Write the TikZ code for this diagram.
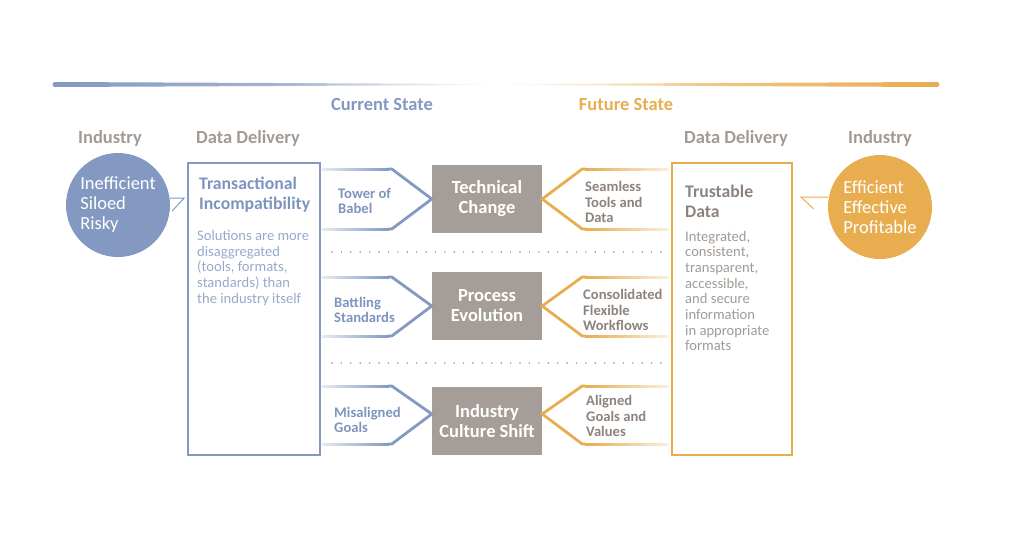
\documentclass[tikz,border=0pt]{standalone}
\usepackage{fontspec}
\setmainfont{Carlito}
\definecolor{stateblue}{HTML}{8399C1}
\definecolor{titleblue}{HTML}{7D94BF}
\definecolor{descblue}{HTML}{97A9CB}
\definecolor{futorange}{HTML}{E8AD4F}
\definecolor{boxgrey}{HTML}{A59E98}
\definecolor{labelgrey}{HTML}{A29A94}
\definecolor{darkgrey}{HTML}{8C837D}
\definecolor{dotgrey}{HTML}{8E8782}
\begin{document}
\begin{tikzpicture}[x=1pt, y=-1pt,
  hdr/.style={inner sep=0pt, text=labelgrey, font=\bfseries\fontsize{18.5}{21}\selectfont},
  ind/.style={circle, minimum size=104pt, inner sep=0pt, text=white, align=left, font=\fontsize{18.5}{20}\selectfont},
  ddbox/.style={line width=1.2pt, minimum height=292pt, inner sep=0pt},
  chg/.style={fill=boxgrey, minimum width=110pt, minimum height=68pt, inner sep=0pt, text=white, align=center, font=\bfseries\fontsize{18.5}{20}\selectfont},
  chev/.style={line width=2.8pt, line join=miter},
  ttl/.style={anchor=west, align=left, inner sep=0pt, font=\bfseries\fontsize{17.7}{20}\selectfont},
  lbl/.style={anchor=west, align=left, inner sep=0pt, font=\bfseries\fontsize{14.6}{15.6}\selectfont},
  desc/.style={anchor=west, align=left, inner sep=0pt, font=\fontsize{14.6}{15.7}\selectfont},
  dotsep/.style={dotgrey, line width=1.6pt, line cap=round, dash pattern=on 0pt off 9.4pt}]
\useasboundingbox (0,0) rectangle (1024,536);
% top rule
\shade[left color=stateblue, right color=white, middle color=stateblue!75] (55,82) -- (490,84) -- (490,85) -- (55,87) -- cycle;
\fill[stateblue] (55,84.5) circle (2.5);
\shade[left color=white, right color=futorange, middle color=futorange!70] (500,84) -- (937,82) -- (937,87) -- (500,85) -- cycle;
\fill[futorange] (937,84.5) circle (2.5);
% headings
\node[hdr, text=stateblue] (cur) at (382,104) {Current State};
\node[hdr, text=futorange] (fut) at (626,104) {Future State};
\node[hdr] (indhL) at (110,138) {Industry};
\node[hdr] (ddhL) at (248,138) {Data Delivery};
\node[hdr] (ddhR) at (736,138) {Data Delivery};
\node[hdr] (indhR) at (880,138) {Industry};
% industry
\node[ind, fill=stateblue] (indL) at (118,205) {Inefficient\\Siloed\\Risky};
\node[ind, fill=futorange] (indR) at (880,207) {Efficient\\Effective\\Profitable};
% data delivery
\node[ddbox, draw=stateblue, minimum width=132pt] (ddL) at (254,309) {};
\node[ddbox, draw=futorange, minimum width=120pt] (ddR) at (732,309) {};
\draw[stateblue, line width=1pt] ([yshift=7pt]indL.east) -- ++(14,0) -- ++(-12,13);
\draw[futorange, line width=1pt] ([yshift=10pt]indR.west) -- ++(-27,0) -- ++(13,12);
\node[ttl, text=titleblue] (ttlL) at (199,195) {Transactional\\Incompatibility};
\node[desc, text=descblue] (descL) at (197,268) {Solutions are more\\disaggregated\\(tools, formats,\\standards) than\\the industry itself};
\node[ttl, text=darkgrey] (ttlR) at (685,201) {Trustable\\Data};
\node[desc, text=labelgrey] (descR) at (685,291) {Integrated,\\consistent,\\transparent,\\accessible,\\and secure\\information\\in appropriate\\formats};
% changes
\node[chg] (tc) at (487,199) {Technical\\Change};
\node[chg] (pe) at (487,306) {Process\\Evolution};
\node[chg] (ic) at (487,421) {Industry\\Culture Shift};
% current state chevrons
\draw[chev, stateblue] ([shift={(-44,-30)}]tc.west) -- ([shift={(-40,-30)}]tc.west) -- (tc.west) -- ([shift={(-40,30)}]tc.west) -- ([shift={(-44,30)}]tc.west);
\shade[left color=stateblue!20, right color=stateblue] ([shift={(-110,-31)}]tc.west) rectangle ([shift={(-43,-29)}]tc.west);
\shade[left color=stateblue!20, right color=stateblue] ([shift={(-110,29)}]tc.west) rectangle ([shift={(-43,31)}]tc.west);
\draw[chev, stateblue] ([shift={(-44,-29)}]pe.west) -- ([shift={(-40,-29)}]pe.west) -- (pe.west) -- ([shift={(-40,30)}]pe.west) -- ([shift={(-44,30)}]pe.west);
\shade[left color=stateblue!20, right color=stateblue] ([shift={(-110,-30)}]pe.west) rectangle ([shift={(-43,-28)}]pe.west);
\shade[left color=stateblue!20, right color=stateblue] ([shift={(-110,29)}]pe.west) rectangle ([shift={(-43,31)}]pe.west);
\draw[chev, stateblue] ([shift={(-44,-35)}]ic.west) -- ([shift={(-40,-35)}]ic.west) -- ([shift={(0,-7)}]ic.west) -- ([shift={(-40,23)}]ic.west) -- ([shift={(-44,23)}]ic.west);
\shade[left color=stateblue!20, right color=stateblue] ([shift={(-110,-36)}]ic.west) rectangle ([shift={(-43,-34)}]ic.west);
\shade[left color=stateblue!20, right color=stateblue] ([shift={(-110,22)}]ic.west) rectangle ([shift={(-43,24)}]ic.west);
% future state chevrons
\draw[chev, futorange] ([shift={(44,-30)}]tc.east) -- ([shift={(40,-30)}]tc.east) -- (tc.east) -- ([shift={(40,30)}]tc.east) -- ([shift={(44,30)}]tc.east);
\shade[left color=futorange, right color=futorange!20] ([shift={(43,-31)}]tc.east) rectangle ([shift={(126,-29)}]tc.east);
\shade[left color=futorange, right color=futorange!20] ([shift={(43,29)}]tc.east) rectangle ([shift={(126,31)}]tc.east);
\draw[chev, futorange] ([shift={(44,-29)}]pe.east) -- ([shift={(40,-29)}]pe.east) -- (pe.east) -- ([shift={(40,30)}]pe.east) -- ([shift={(44,30)}]pe.east);
\shade[left color=futorange, right color=futorange!20] ([shift={(43,-30)}]pe.east) rectangle ([shift={(126,-28)}]pe.east);
\shade[left color=futorange, right color=futorange!20] ([shift={(43,29)}]pe.east) rectangle ([shift={(126,31)}]pe.east);
\draw[chev, futorange] ([shift={(44,-35)}]ic.east) -- ([shift={(40,-35)}]ic.east) -- ([shift={(0,-7)}]ic.east) -- ([shift={(40,23)}]ic.east) -- ([shift={(44,23)}]ic.east);
\shade[left color=futorange, right color=futorange!20] ([shift={(43,-36)}]ic.east) rectangle ([shift={(126,-34)}]ic.east);
\shade[left color=futorange, right color=futorange!20] ([shift={(43,22)}]ic.east) rectangle ([shift={(126,24)}]ic.east);
% chevron labels
\node[lbl, text=titleblue] (tob) at (338,201) {Tower of\\Babel};
\node[lbl, text=titleblue] (bst) at (334,310) {Battling\\Standards};
\node[lbl, text=titleblue] (mgo) at (334,420) {Misaligned\\Goals};
\node[lbl, text=darkgrey] (std) at (585,202) {Seamless\\Tools and\\Data};
\node[lbl, text=darkgrey] (cfw) at (583,310) {Consolidated\\Flexible\\Workflows};
\node[lbl, text=darkgrey] (agv) at (586,416) {Aligned\\Goals and\\Values};
% separators
\draw[dotsep] (332,252) -- (662,252);
\draw[dotsep] (332,363) -- (662,363);
\end{tikzpicture}
\end{document}
